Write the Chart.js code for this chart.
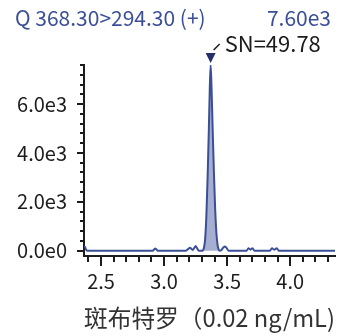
<!DOCTYPE html>
<html>
<head>
<meta charset="utf-8">
<script src="https://cdn.jsdelivr.net/npm/chart.js@4.4.1/dist/chart.umd.min.js"></script>
<style>
  html, body { margin: 0; padding: 0; background: #fff; }
  #wrap { width: 346px; height: 336px; position: relative; }
</style>
</head>
<body>
<div id="wrap"><canvas id="chrom"></canvas></div>
<script>
// retention time (min) and intensity
const times = [2.365, 2.372, 2.38, 2.39, 2.91, 2.922, 2.93, 2.938, 2.95,
  3.17, 3.19, 3.205, 3.228, 3.25, 3.262, 3.275, 3.305,
  3.315, 3.325, 3.335, 3.345, 3.355, 3.362, 3.369, 3.376, 3.385, 3.395, 3.405, 3.415, 3.425, 3.435, 3.44,
  3.455, 3.47, 3.484, 3.498, 3.51, 3.655, 3.669, 3.685, 3.701, 3.715,
  3.84, 3.855, 3.872, 3.894, 3.908, 4.355];
const intensities = [150, 160, 60, 0, 0, 60, 90, 60, 0,
  0, 60, 120, 30, 190, 90, 0, 0,
  100, 450, 1400, 3000, 5000, 6600, 7600, 6700, 5000, 3200, 1700, 700, 200, 20, 0,
  30, 130, 170, 90, 0, 0, 100, 40, 100, 0,
  0, 100, 40, 100, 0, 0];

const peakRange = [3.305, 3.44];
const peakTime = 3.369;
const peakHeight = 7600;
const snLabel = "SN=49.78";
const titleLeft = "Q 368.30>294.30 (+)";
const titleRight = "7.60e3";
const xTitle = "斑布特罗（0.02 ng/mL)";

const xMajor = [2.5, 3.0, 3.5, 4.0];
const xMinor = [2.4, 2.6, 2.7, 2.8, 2.9, 3.1, 3.2, 3.3, 3.4, 3.6, 3.7, 3.8, 3.9, 4.1, 4.2, 4.3];
const yMajor = [0, 2000, 4000, 6000];
const yMinor = [400, 800, 1200, 1600, 2400, 2800, 3200, 3600, 4400, 4800, 5200, 5600, 6400, 6800, 7200, 7600];

const FONT = '"Noto Sans CJK SC", "Noto Sans", sans-serif';
const BLUE = "#3b4f97";
const INK = "#1c1c1c";

const trace = times.map((t, i) => ({ x: t, y: intensities[i] }));
const peakArea = trace.filter(p => p.x >= peakRange[0] && p.x <= peakRange[1]);

// minor/major tick marks, headers and the SN marker
const decor = {
  id: "decor",
  afterDraw(chart) {
    const { ctx, chartArea: a } = chart;
    const xs = chart.scales.x, ys = chart.scales.y;
    ctx.save();
    ctx.strokeStyle = INK;
    ctx.lineWidth = 2;
    ctx.beginPath();
    xMajor.forEach(v => { const px = Math.round(xs.getPixelForValue(v)); ctx.moveTo(px, a.bottom); ctx.lineTo(px, a.bottom + 10); });
    yMajor.forEach(v => { const py = Math.round(ys.getPixelForValue(v)); ctx.moveTo(a.left, py); ctx.lineTo(a.left - 7, py); });
    ctx.stroke();
    ctx.beginPath();
    xMinor.forEach(v => { const px = Math.round(xs.getPixelForValue(v)); ctx.moveTo(px, a.bottom); ctx.lineTo(px, a.bottom + 6); });
    yMinor.forEach(v => { const py = Math.round(ys.getPixelForValue(v)); ctx.moveTo(a.left, py); ctx.lineTo(a.left - 4, py); });
    ctx.stroke();

    ctx.font = "21px " + FONT;
    ctx.fillStyle = BLUE;
    ctx.textBaseline = "alphabetic";
    ctx.textAlign = "left";
    ctx.fillText(titleLeft, 15, 26);
    ctx.textAlign = "right";
    ctx.fillText(titleRight, 331, 26);

    const px = xs.getPixelForValue(peakTime);
    const py = ys.getPixelForValue(peakHeight);
    ctx.fillStyle = "#262f66";
    ctx.beginPath();
    ctx.moveTo(px - 5, py - 12);
    ctx.lineTo(px + 5, py - 12);
    ctx.lineTo(px, py - 2);
    ctx.closePath();
    ctx.fill();
    ctx.strokeStyle = INK;
    ctx.lineWidth = 1.5;
    ctx.beginPath();
    ctx.moveTo(px + 3, py - 15);
    ctx.lineTo(px + 9, py - 21);
    ctx.stroke();
    ctx.fillStyle = INK;
    ctx.textAlign = "left";
    ctx.font = "22px " + FONT;
    ctx.fillText(snLabel, px + 14, py - 13);
    ctx.restore();
  }
};

new Chart(document.getElementById("chrom"), {
  type: "line",
  data: {
    datasets: [
      { data: trace, borderColor: BLUE, borderWidth: 2, pointRadius: 0, fill: false,
        cubicInterpolationMode: "monotone", order: 0 },
      { data: peakArea, borderWidth: 0, pointRadius: 0, backgroundColor: "#a6aed2",
        fill: "origin", cubicInterpolationMode: "monotone", order: 1 }
    ]
  },
  options: {
    responsive: true,
    maintainAspectRatio: false,
    animation: false,
    layout: { padding: { top: 65, right: 11, left: 0, bottom: 0 } },
    plugins: { legend: { display: false }, tooltip: { enabled: false } },
    scales: {
      x: {
        type: "linear", min: 2.365, max: 4.355,
        grid: { display: false, drawTicks: false },
        border: { display: true, color: INK, width: 2 },
        afterBuildTicks: s => { s.ticks = xMajor.map(v => ({ value: v })); },
        afterFit: s => { s.height = 80; },
        ticks: { color: INK, padding: 13, maxRotation: 0, font: { family: FONT, size: 20 },
          callback: v => Number(v).toFixed(1) },
        title: { display: true, text: xTitle, color: "#333", padding: { top: 3 },
          font: { family: FONT, size: 24 } }
      },
      y: {
        min: -220, max: 7600,
        grid: { display: false, drawTicks: false },
        border: { display: true, color: INK, width: 2 },
        afterBuildTicks: s => { s.ticks = yMajor.map(v => ({ value: v })); },
        afterFit: s => { s.width = 84; },
        ticks: { color: INK, padding: 17, font: { family: FONT, size: 20 },
          callback: v => Number(v).toExponential(1).replace("+", "") }
      }
    }
  },
  plugins: [decor]
});
</script>
</body>
</html>
